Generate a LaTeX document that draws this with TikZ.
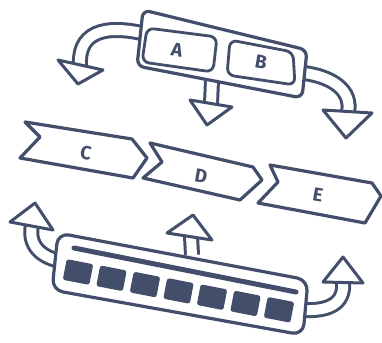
\documentclass[tikz,border=0pt]{standalone}
\usepackage{fontspec}
\setsansfont{Fira Sans}
\definecolor{ink}{HTML}{434E6B}
\tikzset{
  ink/.style={draw=ink, line width=3.2pt, line join=round, line cap=round},
  boxshape/.style={ink, fill=white, rounded corners=7pt},
  shaft/.style={draw=ink, line width=3pt, double=white, double distance=10pt, line cap=butt},
  head/.style={ink, fill=white, line width=3pt},
  key/.style={fill=ink, draw=ink, line width=1pt, rounded corners=2pt, minimum width=26pt, minimum height=20pt, rotate=-11, inner sep=0pt},
  lbl/.style={text=ink, font=\sffamily\bfseries\fontsize{19}{19}\selectfont, inner sep=0pt}
}
\begin{document}
\begin{tikzpicture}[x=1pt,y=-1pt]
\useasboundingbox (0,0) rectangle (382,342);

% ---------- arrows of the top box ----------
\coordinate (tl0) at (150,35);   \coordinate (tl1) at (80,66);
\coordinate (td0) at (212,80);   \coordinate (td1) at (211,104);
\coordinate (tr0) at (295,72);   \coordinate (tr1) at (348,112);
\draw[shaft] (tl0) .. controls (100,22) and (78,35) .. (tl1);
\draw[head] (58,60) -- (78,84) -- (103,70) -- cycle;
\draw[shaft] (td0) -- (td1);
\draw[head] (190,100) -- (207,125) -- (232,107) -- cycle;
\draw[shaft] (tr0) .. controls (335,75) and (352,92) .. (tr1);
\draw[head] (323,110) -- (346,138) -- (372,113) -- cycle;

% ---------- top box with A and B ----------
\draw[boxshape] (143,10) -- (307,50) -- (302,98) -- (137,66) -- cycle;
\draw[boxshape, line width=2.8pt] (147,28) -- (217,37) -- (213,72) -- (142,62) -- cycle;
\draw[boxshape, line width=2.8pt] (230,40) -- (293,52) -- (295,85) -- (227,75) -- cycle;
\node[lbl, rotate=-10] (A) at (177,50) {A};
\node[lbl, rotate=-10] (B) at (261,62) {B};

% ---------- chevrons C, D, E ----------
\draw[ink, fill=white] (25,122) -- (132,139) -- (147,158) -- (133,178) -- (20,158) -- (40,137) -- cycle;
\draw[ink, fill=white] (150,143) -- (253,167) -- (262,180) -- (240,200) -- (143,178) -- (162,162) -- cycle;
\draw[ink, fill=white] (270,165) -- (372,183) -- (381,196) -- (365,223) -- (258,203) -- (278,182) -- cycle;
\node[lbl, rotate=-10] (C) at (86,153) {C};
\node[lbl, rotate=-10] (D) at (201,176) {D};
\node[lbl, rotate=-10] (E) at (318,195) {E};

% ---------- arrows of the bottom panel ----------
\coordinate (bl0) at (65,262);   \coordinate (bl1) at (32,225);
\coordinate (bm0) at (192,255);  \coordinate (bm1) at (191,236);
\coordinate (br0) at (300,310);  \coordinate (br1) at (343,280);
\draw[shaft] (bl0) .. controls (40,258) and (28,245) .. (bl1);
\draw[head] (10,222) -- (35,203) -- (53,230) -- cycle;
\draw[shaft] (bm0) -- (bm1);
\draw[head] (167,233) -- (193,215) -- (212,240) -- cycle;
\draw[shaft] (br0) .. controls (335,312) and (345,300) .. (br1);
\draw[head] (323,282) -- (343,257) -- (363,283) -- cycle;

% ---------- bottom panel ----------
\draw[boxshape, rounded corners=11pt] (58,233) -- (308,280) -- (303,335) -- (52,290) -- cycle;
\draw[draw=ink, line width=5pt, line cap=round] (74,248) -- (296,292);
\foreach \i in {0,...,6} {
  \node[key] (k\i) at ({78+33.5*\i},{272+6.3*\i}) {};
}
\end{tikzpicture}
\end{document}
